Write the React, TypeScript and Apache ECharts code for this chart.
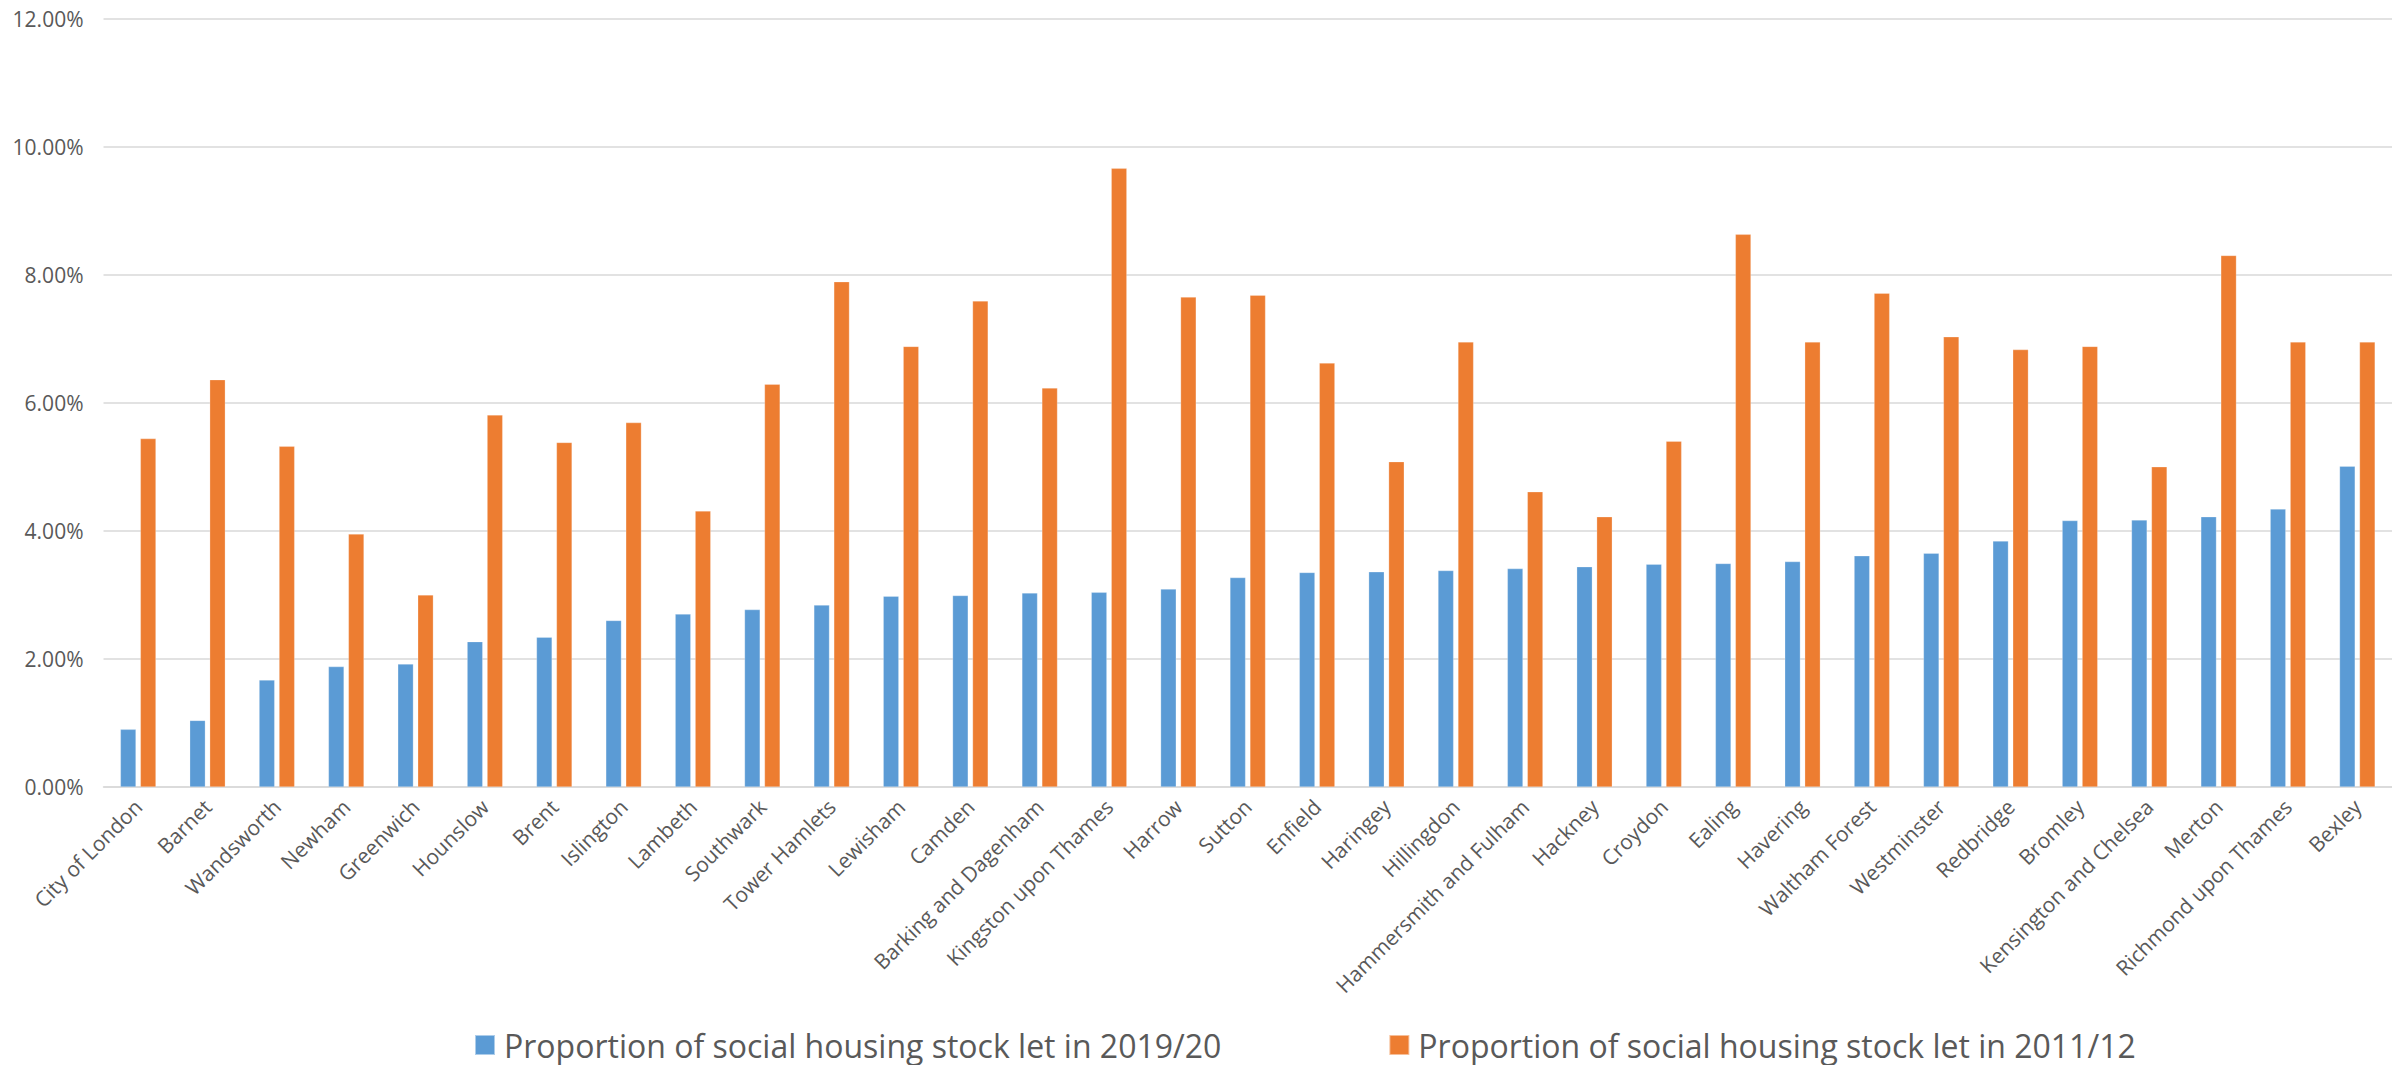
import React, { useEffect, useRef } from "react";
import * as echarts from "echarts";

const boroughs = [
  "City of London", "Barnet", "Wandsworth", "Newham", "Greenwich", "Hounslow", "Brent",
  "Islington", "Lambeth", "Southwark", "Tower Hamlets", "Lewisham", "Camden",
  "Barking and Dagenham", "Kingston upon Thames", "Harrow", "Sutton", "Enfield",
  "Haringey", "Hillingdon", "Hammersmith and Fulham", "Hackney", "Croydon", "Ealing",
  "Havering", "Waltham Forest", "Westminster", "Redbridge", "Bromley",
  "Kensington and Chelsea", "Merton", "Richmond upon Thames", "Bexley",
];

const let2019 = [
  0.9, 1.04, 1.67, 1.88, 1.92, 2.27, 2.34, 2.6, 2.7, 2.77, 2.84, 2.98, 2.99, 3.03, 3.04,
  3.09, 3.27, 3.35, 3.36, 3.38, 3.41, 3.44, 3.48, 3.49, 3.52, 3.61, 3.65, 3.84, 4.16,
  4.17, 4.22, 4.34, 5.01,
];

const let2011 = [
  5.44, 6.36, 5.32, 3.95, 3.0, 5.81, 5.38, 5.69, 4.31, 6.29, 7.89, 6.88, 7.59, 6.23, 9.66,
  7.65, 7.68, 6.62, 5.08, 6.95, 4.61, 4.22, 5.4, 8.63, 6.95, 7.71, 7.03, 6.83, 6.88,
  5.0, 8.3, 6.95, 6.95,
];

const seriesNames = [
  "Proportion of social housing stock let in 2019/20",
  "Proportion of social housing stock let in 2011/12",
];

const yTicks = { min: 0, max: 12, interval: 2 };

export default function App() {
  const ref = useRef<HTMLDivElement>(null);

  useEffect(() => {
    document.body.style.margin = "0";
    if (!ref.current) return;
    const chart = echarts.init(ref.current, undefined, { renderer: "svg" });
    const textColor = "#595959";
    const font = "'Open Sans', 'Noto Sans', sans-serif";
    chart.setOption({
      animation: false,
      backgroundColor: "#ffffff",
      grid: { left: 103.5, right: -5, top: 18.5, bottom: 278, containLabel: false },
      legend: {
        left: 469,
        top: 1023,
        itemWidth: 20,
        itemHeight: 20,
        itemGap: 167,
        icon: "rect",
        textStyle: {
          color: textColor,
          fontSize: 32,
          lineHeight: 34,
          fontFamily: font,
          padding: [0, 0, 0, 4],
        },
        data: seriesNames,
      },
      xAxis: {
        type: "category",
        data: boroughs,
        axisTick: { show: false },
        axisLine: { lineStyle: { color: "#d9d9d9", width: 1.5 } },
        axisLabel: {
          interval: 0,
          rotate: 45,
          margin: 16,
          color: textColor,
          fontSize: 21,
          fontFamily: font,
        },
      },
      yAxis: {
        type: "value",
        min: yTicks.min,
        max: yTicks.max,
        interval: yTicks.interval,
        axisLine: { show: false },
        axisTick: { show: false },
        splitLine: { lineStyle: { color: "#d9d9d9", width: 1.5 } },
        axisLabel: {
          margin: 20,
          color: textColor,
          fontSize: 21,
          fontFamily: font,
          formatter: (v: number) => v.toFixed(2) + "%",
        },
      },
      series: [
        {
          name: seriesNames[0],
          type: "bar",
          data: let2019,
          barWidth: 15.6,
          barGap: "28%",
          itemStyle: { color: "#5b9bd5", borderColor: "rgba(255,255,255,0.5)", borderWidth: 0.5 },
        },
        {
          name: seriesNames[1],
          type: "bar",
          data: let2011,
          barWidth: 15.6,
          barGap: "28%",
          itemStyle: { color: "#ed7d31", borderColor: "rgba(255,255,255,0.5)", borderWidth: 0.5 },
        },
      ],
    });
    return () => chart.dispose();
  }, []);

  return <div ref={ref} style={{ width: 2392, height: 1065 }} />;
}
